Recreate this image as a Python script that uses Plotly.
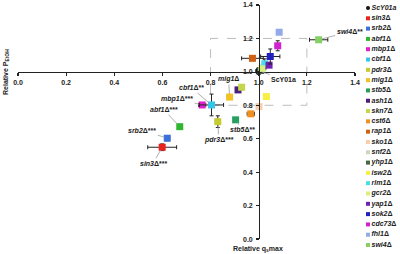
import plotly.graph_objects as go

# ---- data ----
strains = ["ScY01a", "sin3", "srb2", "abf1", "mbp1", "cbf1", "pdr3", "mig1", "stb5",
           "ash1", "skn7", "cst6", "rap1", "sko1", "snf2", "yhp1", "isw2", "rlm1",
           "gcr2", "yap1", "sok2", "cdc73", "fhl1", "swi4"]
qs_max = [1.000, 0.599, 0.620, 0.672, 0.765, 0.804, 0.830, 0.879, 0.904,
          0.914, 0.929, 0.967, 0.974, 1.001, 1.017, 1.008, 1.032, 1.025,
          1.013, 1.043, 1.048, 1.079, 1.085, 1.249]
p_etoh = [1.005, 0.549, 0.603, 0.672, 0.802, 0.802, 0.702, 0.849, 0.713,
          0.892, 0.908, 0.749, 1.081, 0.792, 1.024, 1.008, 0.852, 1.048,
          1.018, 1.040, 1.092, 1.156, 1.237, 1.192]
qs_err = [0.010, 0.060, 0.010, 0.008, 0.015, 0.050, 0.010, 0.0, 0.008,
          0.008, 0.008, 0.015, 0.045, 0.0, 0.008, 0.0, 0.0, 0.008,
          0.0, 0.008, 0.040, 0.010, 0.0, 0.038]
p_err = [0.020, 0.020, 0.015, 0.010, 0.010, 0.065, 0.035, 0.0, 0.010,
         0.015, 0.015, 0.010, 0.012, 0.0, 0.010, 0.0, 0.0, 0.030,
         0.0, 0.010, 0.045, 0.030, 0.0, 0.012]
colors = ["#111111", "#e8231e", "#3b6fd9", "#2fb52f", "#e11fcb", "#33c6ea", "#c4cc2e",
          "#f2c123", "#27a05e", "#4c1f7e", "#c4d64a", "#f0911f", "#cf6114", "#f7cfae",
          "#c7d8c0", "#456545", "#f7ef44", "#44dfe8", "#d8ef82", "#7121b0", "#2121bf",
          "#d121d2", "#93a9e9", "#83d063"]
# labelled points: strain -> (label text, offset dx, dy in px)
labels = {
    "ScY01a": ("ScY01a", 25, 8),
    "sin3": ("<i>sin3</i>Δ***", -9, 16),
    "srb2": ("<i>srb2</i>Δ***", -25, -8),
    "abf1": ("<i>abf1</i>Δ***", -16, -17),
    "mbp1": ("<i>mbp1</i>Δ***", -25, -6),
    "cbf1": ("<i>cbf1</i>Δ**", -20, -17),
    "pdr3": ("<i>pdr3</i>Δ***", 1, 18),
    "mig1": ("<i>mig1</i>Δ", -1, -18),
    "stb5": ("<i>stb5</i>Δ**", 7, 10),
    "swi4": ("<i>swi4</i>Δ**", 31, -8),
}
x_ticks = [0.0, 0.2, 0.4, 0.6, 0.8, 1.0, 1.2, 1.4]
y_ticks = [0.0, 0.2, 0.4, 0.6, 0.8, 1.0, 1.2, 1.4]
box_range = [0.8, 1.2]
cross = 1.0

W, H = 400, 254
FONT = "Liberation Sans, Arial, sans-serif"
xdom = [18 / W, 355 / W]
ydom = [(H - 239) / H, (H - 5) / H]
xr = [0, 1.4]
yr = [0, 1.4]

fig = go.Figure()

for i, s in enumerate(strains):
    fig.add_trace(go.Scatter(
        x=[qs_max[i]], y=[p_etoh[i]], mode="markers",
        marker=dict(symbol="circle" if i == 0 else "square", size=7, color=colors[i],
                    line=dict(width=0)),
        error_x=dict(type="data", array=[qs_err[i]], color="#222", thickness=1, width=2,
                     visible=qs_err[i] > 0),
        error_y=dict(type="data", array=[p_err[i]], color="#222", thickness=1, width=2,
                     visible=p_err[i] > 0),
        showlegend=False, hoverinfo="skip", cliponaxis=False))

# custom legend drawn on its own axes
legend_text = [("<i>" + s + "</i>") if i == 0 else ("<i>" + s + "</i>Δ") for i, s in enumerate(strains)]
fig.add_trace(go.Scatter(
    x=[0] * len(strains), y=list(range(len(strains))), xaxis="x2", yaxis="y2",
    mode="markers+text", text=legend_text, textposition="middle right",
    textfont=dict(family=FONT, size=7, color="#222", weight="bold"),
    marker=dict(symbol=["circle"] + ["square"] * (len(strains) - 1), size=4, color=colors),
    showlegend=False, hoverinfo="skip", cliponaxis=False))

ypos = ydom[0] + (cross - yr[0]) / (yr[1] - yr[0]) * (ydom[1] - ydom[0])
xpos = xdom[0] + (cross - xr[0]) / (xr[1] - xr[0]) * (xdom[1] - xdom[0])

axis_common = dict(showline=True, linecolor="#222", linewidth=1.5, showgrid=False,
                   zeroline=False, ticks="outside", ticklen=3, tickwidth=1.2, tickcolor="#222",
                   tickfont=dict(family=FONT, size=7, color="#222222", weight="bold"),
                   tickformat=".1f", anchor="free", automargin=False,
                   ticklabeloverflow="allow", fixedrange=True)

fig.update_layout(
    width=W, height=H, margin=dict(l=0, r=0, t=0, b=0, pad=0),
    paper_bgcolor="white", plot_bgcolor="white",
    hovermode=False, dragmode=False,
    xaxis=dict(domain=xdom, range=xr, tickvals=x_ticks, position=ypos,
               showticklabels=True, **axis_common),
    yaxis=dict(domain=ydom, range=yr, tickvals=y_ticks, position=xpos,
               showticklabels=False, **axis_common),
    xaxis2=dict(domain=[368 / W, 1.0], range=[0, 1], visible=False, automargin=False),
    yaxis2=dict(domain=[0, 1], range=[23.87, -0.776], visible=False, anchor="x2",
                automargin=False),
    shapes=[dict(type="rect", xref="x", yref="y", x0=box_range[0], x1=box_range[1],
                 y0=box_range[0], y1=box_range[1],
                 line=dict(color="#bdbdbd", width=1, dash="dash"), layer="below")],
)

ann = []
# y tick labels placed on the y scale, just left of the crossing axis line
for v in y_ticks:
    ann.append(dict(x=cross, y=v, xref="x", yref="y", text=f"<b>{v:.1f}</b>",
                    showarrow=False, xanchor="right", yanchor="middle", xshift=-4,
                    font=dict(family=FONT, size=7, color="#222222")))
for s, (txt, dx, dy) in labels.items():
    i = strains.index(s)
    ann.append(dict(x=qs_max[i], y=p_etoh[i], xref="x", yref="y", text="<b>" + txt + "</b>",
                    showarrow=True, arrowhead=0, arrowwidth=0.8, arrowcolor="#9a9a9a",
                    ax=dx, ay=dy, standoff=3,
                    font=dict(family=FONT, size=7, color="#222")))
ann.append(dict(x=6 / W, y=(H - 72) / H, xref="paper", yref="paper",
                xanchor="center", yanchor="middle",
                text="<b>Relative P<sub>EtOH</sub></b>", textangle=-90, showarrow=False,
                font=dict(family=FONT, size=7, color="#222")))
ann.append(dict(x=258 / W, y=(H - 249) / H, xref="paper", yref="paper",
                xanchor="center", yanchor="middle",
                text="<b>Relative q<sub>s</sub>max</b>", showarrow=False,
                font=dict(family=FONT, size=7, color="#222")))
fig.update_layout(annotations=ann)

fig.write_html(
    "out.html", config={"displayModeBar": False, "staticPlot": True},
    post_script=("document.body.style.margin='0';document.body.style.overflow='hidden';"
                 "var gd=document.getElementById('{plot_id}');"
                 "Plotly.relayout(gd, {'xaxis.range':[0,1.4]});"))
